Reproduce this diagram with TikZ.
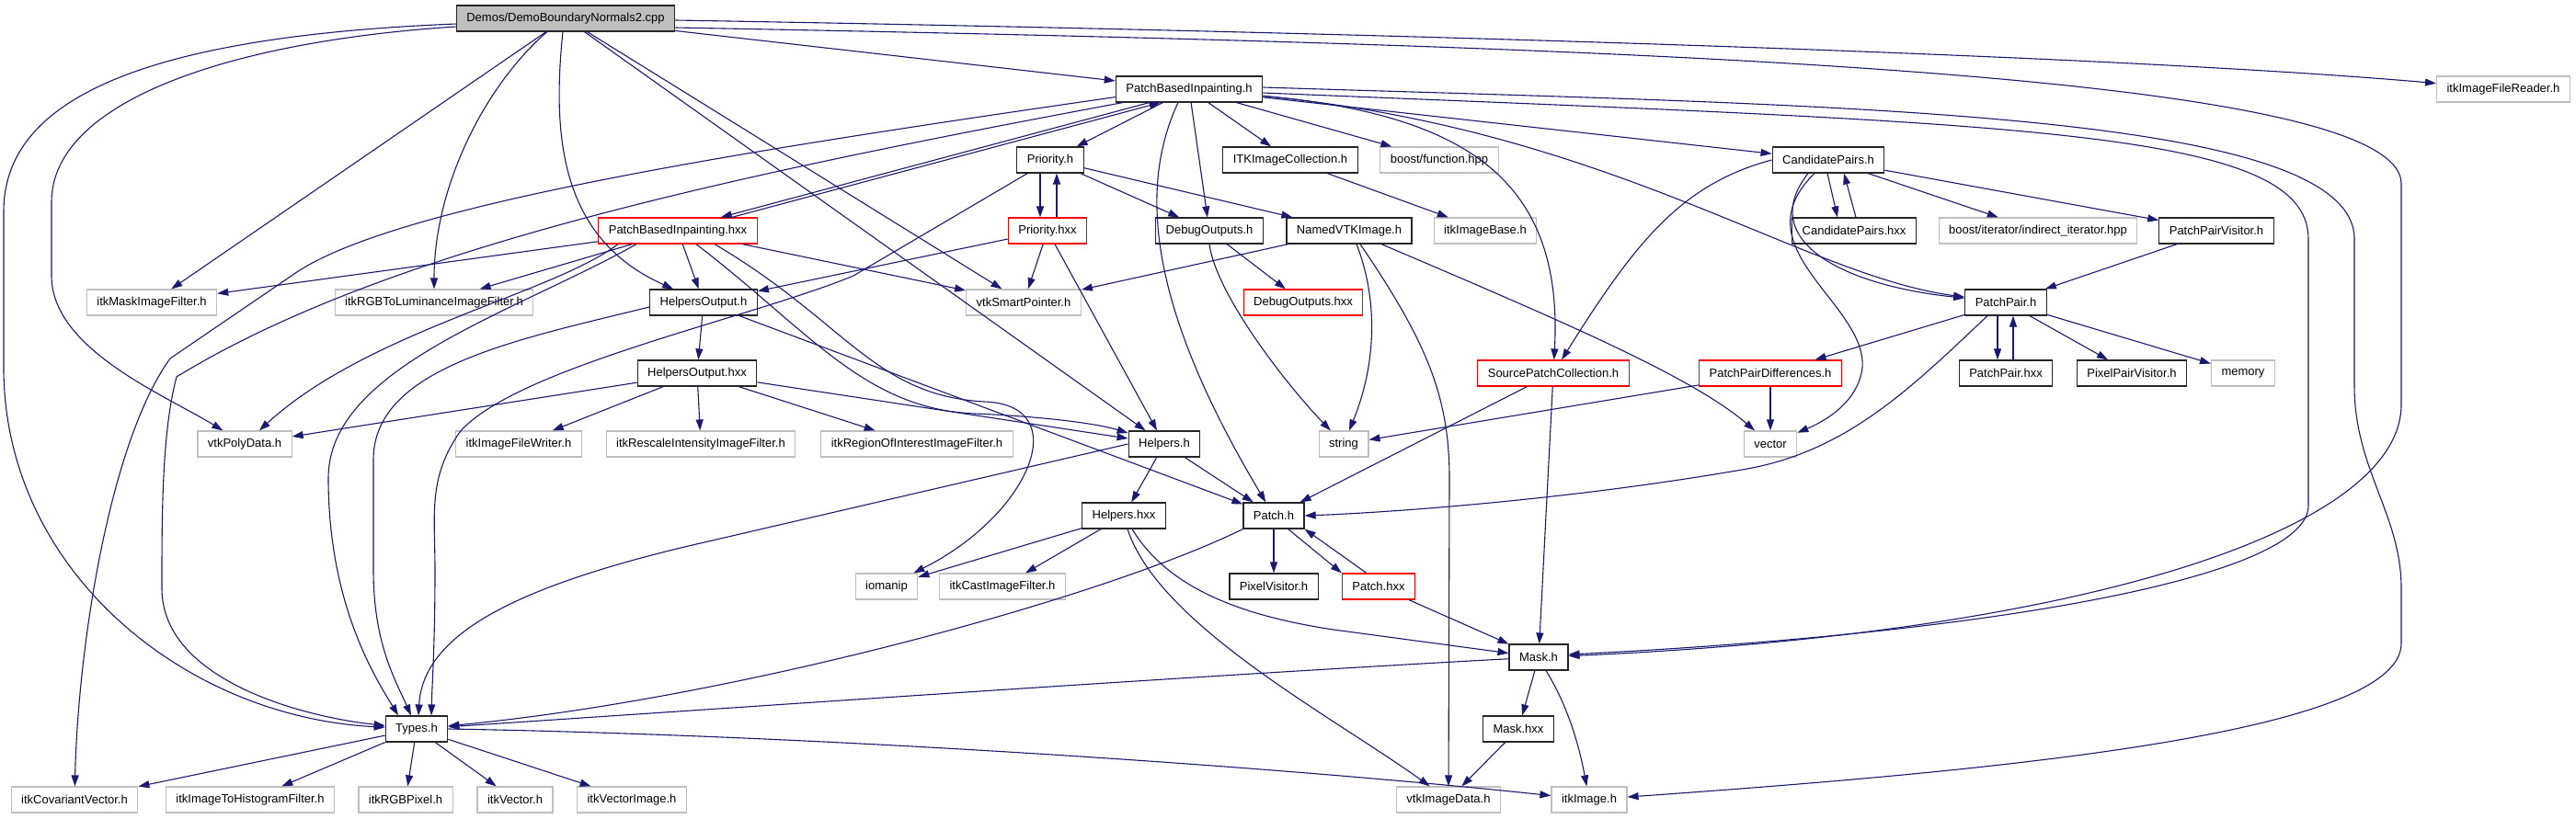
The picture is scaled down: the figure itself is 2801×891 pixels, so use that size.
\documentclass[tikz,border=0pt]{standalone}
\usepackage{fontspec}
\setmainfont{Liberation Sans}
\usetikzlibrary{arrows.meta}
\definecolor{edgeblue}{HTML}{191970}
\definecolor{extgray}{HTML}{BFBFBF}

\begin{document}
\begin{tikzpicture}[x=1pt,y=-1pt,
  file/.style={draw=black!85,line width=1.2pt,fill=white,minimum height=28pt,inner xsep=11pt,font=\fontsize{13pt}{15pt}\selectfont},
  ext/.style={file,draw=extgray},
  warn/.style={file,draw=red},
  root/.style={file,fill=extgray},
  dep/.style={draw=edgeblue,line width=1.1pt,-{Triangle[length=12pt,width=8pt]}}]
\useasboundingbox (0,0) rectangle (2801,891);

\node[root] (cpp) at (615,20) {Demos/DemoBoundaryNormals2.cpp};
\node[file] (pbih) at (1293,97) {PatchBasedInpainting.h};
\node[ext] (reader) at (2722,97) {itkImageFileReader.h};
\node[file] (priorityh) at (1142,174) {Priority.h};
\node[file] (itkcoll) at (1403,174) {ITKImageCollection.h};
\node[ext] (boostfn) at (1565,174) {boost/function.hpp};
\node[file] (candh) at (1988,174) {CandidatePairs.h};
\node[warn] (pbihxx) at (737,251) {PatchBasedInpainting.hxx};
\node[warn] (priorityhxx) at (1139,251) {Priority.hxx};
\node[file] (debugh) at (1315,251) {DebugOutputs.h};
\node[file] (namedvtk) at (1467,251) {NamedVTKImage.h};
\node[ext] (imagebase) at (1615,251) {itkImageBase.h};
\node[file] (candhxx) at (2016,251) {CandidatePairs.hxx};
\node[ext] (boostiter) at (2216,251) {boost/iterator/indirect\_iterator.hpp};
\node[file] (ppvisitor) at (2410,251) {PatchPairVisitor.h};
\node[ext] (maskfilter) at (165,329) {itkMaskImageFilter.h};
\node[ext] (rgblum) at (472,329) {itkRGBToLuminanceImageFilter.h};
\node[file] (helpersouth) at (765,329) {HelpersOutput.h};
\node[ext] (smartptr) at (1113,329) {vtkSmartPointer.h};
\node[warn] (debughxx) at (1417,329) {DebugOutputs.hxx};
\node[file] (ppair) at (2181,329) {PatchPair.h};
\node[file] (helpersouthxx) at (758,406) {HelpersOutput.hxx};
\node[warn] (sourcepc) at (1689,406) {SourcePatchCollection.h};
\node[warn] (ppdiff) at (1925,406) {PatchPairDifferences.h};
\node[file] (ppairhxx) at (2181,406) {PatchPair.hxx};
\node[file] (pixelpairvisitor) at (2318,406) {PixelPairVisitor.h};
\node[ext] (memory) at (2439,406) {memory};
\node[ext] (polydata) at (266,483) {vtkPolyData.h};
\node[ext] (writer) at (564,483) {itkImageFileWriter.h};
\node[ext] (rescale) at (762,483) {itkRescaleIntensityImageFilter.h};
\node[ext] (roi) at (997,483) {itkRegionOfInterestImageFilter.h};
\node[file] (helpersh) at (1266,483) {Helpers.h};
\node[ext] (string) at (1461,483) {string};
\node[ext] (vector) at (1925,483) {vector};
\node[file] (helpershxx) at (1222,561) {Helpers.hxx};
\node[file] (patchh) at (1385,561) {Patch.h};
\node[ext] (iomanip) at (964,638) {iomanip};
\node[ext] (castfilter) at (1090,638) {itkCastImageFilter.h};
\node[file] (pixelvisitor) at (1385,638) {PixelVisitor.h};
\node[warn] (patchhxx) at (1499,638) {Patch.hxx};
\node[file] (maskh) at (1673,715) {Mask.h};
\node[file] (types) at (453,793) {Types.h};
\node[file] (maskhxx) at (1651,793) {Mask.hxx};
\node[ext] (covariant) at (81,870) {itkCovariantVector.h};
\node[ext] (histogram) at (272,870) {itkImageToHistogramFilter.h};
\node[ext] (rgbpixel) at (441,870) {itkRGBPixel.h};
\node[ext] (itkvector) at (560,870) {itkVector.h};
\node[ext] (vectorimage) at (687,870) {itkVectorImage.h};
\node[ext] (vtkimagedata) at (1575,870) {vtkImageData.h};
\node[ext] (itkimage) at (1728,870) {itkImage.h};

\draw[dep] (cpp) -- (pbih);
\draw[dep] ([yshift=-2pt]cpp.east) .. controls (1500,35) and (2300,60) .. (reader);
\draw[dep] (cpp) -- (maskfilter);
\draw[dep] ([xshift=-20pt]cpp.south) .. controls (530,90) and (472,200) .. (rgblum);
\draw[dep] ([yshift=-9pt]cpp.west) .. controls (250,45) and (56,110) .. (56,220) -- (56,300) .. controls (56,380) and (180,430) .. (polydata);
\draw[dep] ([yshift=-6pt]cpp.west) .. controls (150,40) and (4,110) .. (4,230) -- (4,400) .. controls (4,620) and (200,780) .. (types);
\draw[dep] ([xshift=-3pt]cpp.south) .. controls (600,150) and (610,260) .. (helpersouth);
\draw[dep] (cpp) -- (smartptr);
\draw[dep] (cpp) -- (helpersh);
\draw[dep] ([yshift=-10pt]cpp.east) .. controls (1800,50) and (2611,80) .. (2611,200) -- (2611,440) .. controls (2611,580) and (2250,690) .. (maskh);

\draw[dep] ([xshift=37pt]pbih.south west) -- ([xshift=-40pt]pbihxx.north east);
\draw[dep] ([xshift=-28pt]pbihxx.north east) -- ([xshift=49pt]pbih.south west);
\draw[dep] (pbih) -- (priorityh);
\draw[dep] (pbih) -- (itkcoll);
\draw[dep] (pbih) -- (boostfn);
\draw[dep] (pbih) -- (candh);
\draw[dep] (pbih) -- (debugh);
\draw[dep] (pbih) .. controls (1600,125) and (1700,200) .. (sourcepc);
\draw[dep] (pbih) .. controls (1750,140) and (1960,300) .. (ppair);
\draw[dep] ([xshift=-12pt]pbih.south) .. controls (1230,220) and (1265,360) .. (patchh);
\draw[dep] ([yshift=-4pt]pbih.east) .. controls (2200,135) and (2510,140) .. (2510,260) -- (2510,550) .. controls (2510,630) and (2150,690) .. ([yshift=3pt]maskh.east);
\draw[dep] ([yshift=2pt]pbih.east) .. controls (2000,115) and (2560,120) .. (2560,260) -- (2560,420) .. controls (2560,510) and (2611,560) .. (2611,640) -- (2611,700) .. controls (2611,800) and (2150,840) .. (itkimage);
\draw[dep] ([yshift=6pt]pbih.south west) .. controls (800,165) and (420,225) .. (317,300) -- (185,390) .. controls (120,480) and (85,700) .. (covariant);
\draw[dep] ([xshift=8pt]pbih.south west) .. controls (800,190) and (420,270) .. (192,410) .. controls (176,470) and (176,560) .. (176,640) .. controls (176,740) and (330,780) .. (types);

\draw[dep] (pbihxx) -- (maskfilter);
\draw[dep] (pbihxx) -- (rgblum);
\draw[dep] ([xshift=-65pt]pbihxx.south) .. controls (600,320) and (400,360) .. (polydata);
\draw[dep] ([xshift=-45pt]pbihxx.south) .. controls (560,340) and (357,400) .. (357,520) .. controls (357,660) and (410,740) .. ([xshift=-20pt]types.north);
\draw[dep] (pbihxx) -- (helpersouth);
\draw[dep] (pbihxx) -- (smartptr);
\draw[dep] ([xshift=20pt]pbihxx.south) .. controls (880,360) and (940,445) .. (1060,450) .. controls (1130,453) and (1190,460) .. (helpersh);
\draw[dep] ([xshift=40pt]pbihxx.south) .. controls (920,350) and (950,430) .. (1070,437) .. controls (1170,440) and (1120,560) .. (iomanip);

\draw[dep] ([xshift=-11pt]priorityh.south) -- ([xshift=-8pt]priorityhxx.north);
\draw[dep] ([xshift=10pt]priorityhxx.north) -- ([xshift=7pt]priorityh.south);
\draw[dep] (priorityh) -- (debugh);
\draw[dep] (priorityh) -- (namedvtk);
\draw[dep] (priorityh) -- (928,300) .. controls (820,345) and (560,400) .. (500,470) .. controls (465,520) and (473,560) .. (473,620) .. controls (473,700) and (470,740) .. ([xshift=16pt]types.north);
\draw[dep] (priorityhxx) -- (helpersouth);
\draw[dep] (priorityhxx) -- (smartptr);
\draw[dep] (priorityhxx) -- (helpersh);
\draw[dep] (itkcoll) -- (imagebase);

\draw[dep] ([xshift=-1pt]candh.south) -- ([xshift=-18pt]candhxx.north);
\draw[dep] ([xshift=2pt]candhxx.north) -- ([xshift=17pt]candh.south);
\draw[dep] ([xshift=-15pt]candh.south) .. controls (1890,270) and (2030,330) .. (2025,400) .. controls (2020,440) and (1980,460) .. (vector);
\draw[dep] ([xshift=-22pt]candh.south) .. controls (1910,260) and (2000,310) .. (ppair);
\draw[dep] (candh.west) .. controls (1830,200) and (1780,260) .. (sourcepc);
\draw[dep] (candh) -- (boostiter);
\draw[dep] (candh) -- (ppvisitor);
\draw[dep] (ppvisitor) -- (ppair);

\draw[dep] (debugh) -- (debughxx);
\draw[dep] (debugh.south) .. controls (1322,320) and (1400,420) .. (string);
\draw[dep] (namedvtk) -- (smartptr);
\draw[dep] ([xshift=8pt]namedvtk.south) .. controls (1500,330) and (1495,400) .. (string);
\draw[dep] ([xshift=12pt]namedvtk.south) .. controls (1550,370) and (1576,430) .. (1576,520) -- (vtkimagedata);
\draw[dep] ([xshift=35pt]namedvtk.south) .. controls (1700,350) and (1840,410) .. (vector);

\draw[dep] (helpersouth) -- (helpersouthxx);
\draw[dep] (helpersouth) -- (patchh);
\draw[dep] ([yshift=-5pt]helpersouth.west) .. controls (560,370) and (406,400) .. (406,500) -- (406,620) .. controls (406,700) and (430,740) .. ([xshift=-6pt]types.north);
\draw[dep] (helpersouthxx) -- (polydata);
\draw[dep] (helpersouthxx) -- (writer);
\draw[dep] (helpersouthxx) -- (rescale);
\draw[dep] (helpersouthxx) -- (roi);
\draw[dep] (helpersouthxx) -- (helpersh);

\draw[dep] ([xshift=-9pt]ppair.south) -- ([xshift=-9pt]ppairhxx.north);
\draw[dep] ([xshift=8pt]ppairhxx.north) -- ([xshift=8pt]ppair.south);
\draw[dep] (ppair) -- (pixelpairvisitor);
\draw[dep] (ppair) -- (memory);
\draw[dep] (ppair) -- (ppdiff);
\draw[dep] ([xshift=-20pt]ppair.south) .. controls (2080,420) and (2010,490) .. (1900,510) .. controls (1700,545) and (1500,558) .. (patchh.east);
\draw[dep] (sourcepc) -- (patchh);
\draw[dep] (sourcepc) -- (maskh);
\draw[dep] (ppdiff) -- (string);
\draw[dep] (ppdiff) -- (vector);

\draw[dep] (helpersh) -- (helpershxx);
\draw[dep] (helpersh) -- (patchh);
\draw[dep] (helpersh.west) -- (740,596) .. controls (560,640) and (460,690) .. ([xshift=2pt]types.north);
\draw[dep] (helpershxx) -- (iomanip);
\draw[dep] (helpershxx) -- (castfilter);
\draw[dep] ([xshift=9pt]helpershxx.south) .. controls (1270,640) and (1350,670) .. (1450,685) -- (maskh);
\draw[dep] ([xshift=4pt]helpershxx.south) .. controls (1260,680) and (1450,780) .. (vtkimagedata);

\draw[dep] (patchh) -- (pixelvisitor);
\draw[dep] ([xshift=-18pt]patchh.south east) -- (patchhxx.north west);
\draw[dep] ([xshift=27pt]patchhxx.north west) -- (patchh.south east);
\draw[dep] (patchh.south west) .. controls (1200,650) and (800,760) .. (types);
\draw[dep] (patchhxx) -- (maskh);

\draw[dep] (maskh) -- (maskhxx);
\draw[dep] ([xshift=8pt]maskh.south) .. controls (1700,760) and (1715,800) .. (itkimage);
\draw[dep] (maskh) .. controls (1300,735) and (800,770) .. (types);
\draw[dep] (maskhxx) -- (vtkimagedata);

\draw[dep] (types) -- (covariant);
\draw[dep] (types) -- (histogram);
\draw[dep] (types) -- (rgbpixel);
\draw[dep] (types) -- (itkvector);
\draw[dep] (types) -- (vectorimage);
\draw[dep] (types.east) .. controls (900,800) and (1400,835) .. (itkimage);
\end{tikzpicture}
\end{document}
